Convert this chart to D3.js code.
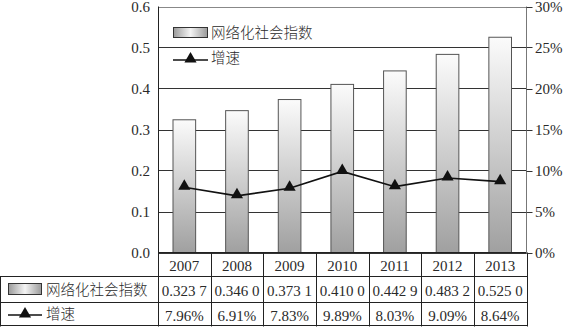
<!DOCTYPE html>
<html><head><meta charset="utf-8">
<script src="https://cdn.jsdelivr.net/npm/d3@7"></script>
<style>
html,body{margin:0;padding:0;background:#fff;}
svg{display:block;}
</style></head>
<body>
<svg id="c" width="563" height="327"></svg>
<script>
const years = ["2007","2008","2009","2010","2011","2012","2013"];
const indexValues = [0.3237, 0.3460, 0.3731, 0.4100, 0.4429, 0.4832, 0.5250];
const growthValues = [7.96, 6.91, 7.83, 9.89, 8.03, 9.09, 8.64];
const leftTicks = [0, 0.1, 0.2, 0.3, 0.4, 0.5, 0.6];
const rightTicks = [0, 5, 10, 15, 20, 25, 30];
const seriesNames = ["网络化社会指数", "增速"];

const svg = d3.select("#c");
const L = 158, R = 526.5, T = 6.5, B = 252.5;
const rowY = [252.5, 276.5, 302.5, 326.5];
const serif = "'Liberation Serif','DejaVu Serif',serif";
const cjk = "'Noto Sans CJK SC','Noto Sans',sans-serif";
const lineCol = "#222";
const txtCol = "#2a2a2a";

const x = d3.scaleBand().domain(years).range([L, R]).paddingInner(0).paddingOuter(0);
const y = d3.scaleLinear().domain([0, 0.6]).range([B, T]);
const y2 = d3.scaleLinear().domain([0, 30]).range([B, T]);

const defs = svg.append("defs");
const g1 = defs.append("linearGradient").attr("id","barGrad").attr("x1",0).attr("y1",0).attr("x2",0).attr("y2",1);
g1.append("stop").attr("offset","0%").attr("stop-color","#fbfbfb");
g1.append("stop").attr("offset","100%").attr("stop-color","#a0a0a0");
const g2 = defs.append("linearGradient").attr("id","swGrad").attr("x1",0).attr("y1",0).attr("x2",1).attr("y2",0);
g2.append("stop").attr("offset","0%").attr("stop-color","#9a9a9a");
g2.append("stop").attr("offset","50%").attr("stop-color","#f4f4f4");
g2.append("stop").attr("offset","100%").attr("stop-color","#9a9a9a");

// gridlines
svg.append("g").selectAll("line").data(leftTicks).join("line")
  .attr("x1", L).attr("x2", R)
  .attr("y1", d => Math.round(y(d)) + 0.5).attr("y2", d => Math.round(y(d)) + 0.5)
  .attr("stroke", d => d === 0.6 ? "#888" : "#333").attr("stroke-width", 1);

// bars
const bw = x.bandwidth() * 0.43;
svg.append("g").selectAll("rect").data(years).join("rect")
  .attr("x", (d,i) => x(d) + x.bandwidth()/2 - bw/2)
  .attr("y", (d,i) => y(indexValues[i]))
  .attr("width", bw)
  .attr("height", (d,i) => B - y(indexValues[i]))
  .attr("fill", "url(#barGrad)")
  .attr("stroke", "#555").attr("stroke-width", 1);

// frame
svg.append("line").attr("x1", L+0.5).attr("x2", L+0.5).attr("y1", T).attr("y2", rowY[3]).attr("stroke", lineCol);
svg.append("line").attr("x1", R).attr("x2", R).attr("y1", T).attr("y2", B).attr("stroke", "#777");

// left axis labels
svg.append("g").selectAll("text").data(leftTicks).join("text")
  .attr("x", 150).attr("y", d => y(d)).attr("dy", "0.35em")
  .attr("text-anchor", "end").attr("font-family", serif).attr("font-size", 15).attr("fill", txtCol)
  .text(d => d3.format(".1f")(d));

// right axis ticks and labels
svg.append("g").selectAll("line").data(rightTicks).join("line")
  .attr("x1", R).attr("x2", R + 6)
  .attr("y1", d => Math.round(y2(d)) + 0.5).attr("y2", d => Math.round(y2(d)) + 0.5)
  .attr("stroke", "#333");
svg.append("g").selectAll("text").data(rightTicks).join("text")
  .attr("x", 535).attr("y", d => y2(d)).attr("dy", "0.35em")
  .attr("text-anchor", "start").attr("font-family", serif).attr("font-size", 15).attr("fill", txtCol)
  .text(d => d + "%");

// line series
const line = d3.line().x((d,i) => x(years[i]) + x.bandwidth()/2).y(d => y2(d));
svg.append("path").datum(growthValues).attr("d", line)
  .attr("fill", "none").attr("stroke", "#111").attr("stroke-width", 1.6);
const tri = d3.symbol().type(d3.symbolTriangle).size(64);
svg.append("g").selectAll("path").data(growthValues).join("path")
  .attr("d", tri)
  .attr("transform", (d,i) => `translate(${x(years[i]) + x.bandwidth()/2},${y2(d) - 1})`)
  .attr("fill", "#111");

// legend in plot
const lg = svg.append("g");
lg.append("rect").attr("x", 173.5).attr("y", 27.5).attr("width", 34).attr("height", 10)
  .attr("fill", "url(#swGrad)").attr("stroke", "#333");
lg.append("text").attr("x", 211).attr("y", 32.5).attr("dy", "0.35em")
  .attr("font-family", cjk).attr("font-weight", 300).attr("font-size", 14.5).attr("fill", txtCol).text(seriesNames[0]);
lg.append("line").attr("x1", 173).attr("x2", 208).attr("y1", 60).attr("y2", 60).attr("stroke", "#111").attr("stroke-width", 1.6);
lg.append("path").attr("d", tri).attr("transform", "translate(190.5,59)").attr("fill", "#111");
lg.append("text").attr("x", 211).attr("y", 58).attr("dy", "0.35em")
  .attr("font-family", cjk).attr("font-weight", 300).attr("font-size", 14.5).attr("fill", txtCol).text(seriesNames[1]);

// data table
const tg = svg.append("g");
tg.append("line").attr("x1", L).attr("x2", R).attr("y1", rowY[0]).attr("y2", rowY[0]).attr("stroke", lineCol);
[rowY[1], rowY[2], rowY[3]-1].forEach(yy => {
  tg.append("line").attr("x1", 0).attr("x2", R+0.5).attr("y1", yy).attr("y2", yy).attr("stroke", lineCol);
});
tg.append("line").attr("x1", 0.5).attr("x2", 0.5).attr("y1", rowY[1]).attr("y2", rowY[3]).attr("stroke", lineCol);
tg.selectAll("line.v").data(years).join("line").attr("class","v")
  .attr("x1", d => Math.round(x(d) + x.bandwidth()) + 0.5).attr("x2", d => Math.round(x(d) + x.bandwidth()) + 0.5)
  .attr("y1", rowY[0]).attr("y2", rowY[3]).attr("stroke", lineCol);

const fmtIdx = v => { const s = d3.format(".4f")(v); return s.slice(0, -1) + " " + s.slice(-1); };
tg.selectAll("text.yr").data(years).join("text").attr("class","yr")
  .attr("x", d => x(d) + x.bandwidth()/2).attr("y", (rowY[0]+rowY[1])/2 + 1).attr("dy","0.35em")
  .attr("text-anchor","middle").attr("font-family", serif).attr("font-size", 15).attr("fill",txtCol).text(d => d);
tg.selectAll("text.iv").data(indexValues).join("text").attr("class","iv")
  .attr("x", (d,i) => x(years[i]) + x.bandwidth()/2).attr("y", (rowY[1]+rowY[2])/2 + 1).attr("dy","0.35em")
  .attr("text-anchor","middle").attr("font-family", serif).attr("font-size", 15).attr("fill",txtCol).text(fmtIdx);
tg.selectAll("text.gv").data(growthValues).join("text").attr("class","gv")
  .attr("x", (d,i) => x(years[i]) + x.bandwidth()/2).attr("y", (rowY[2]+rowY[3])/2 + 1).attr("dy","0.35em")
  .attr("text-anchor","middle").attr("font-family", serif).attr("font-size", 15).attr("fill",txtCol).text(d => d3.format(".2f")(d) + "%");

// row headers
tg.append("rect").attr("x", 8.5).attr("y", 283.5).attr("width", 33).attr("height", 11)
  .attr("fill", "url(#swGrad)").attr("stroke", "#333");
tg.append("text").attr("x", 46).attr("y", 289.5).attr("dy", "0.35em")
  .attr("font-family", cjk).attr("font-weight", 300).attr("font-size", 14.5).attr("fill", txtCol).text(seriesNames[0]);
tg.append("line").attr("x1", 8).attr("x2", 42).attr("y1", 315).attr("y2", 315).attr("stroke", "#111").attr("stroke-width", 1.6);
tg.append("path").attr("d", tri).attr("transform", "translate(25,314)").attr("fill", "#111");
tg.append("text").attr("x", 46).attr("y", 313.5).attr("dy", "0.35em")
  .attr("font-family", cjk).attr("font-weight", 300).attr("font-size", 14.5).attr("fill", txtCol).text(seriesNames[1]);
</script>
</body></html>
